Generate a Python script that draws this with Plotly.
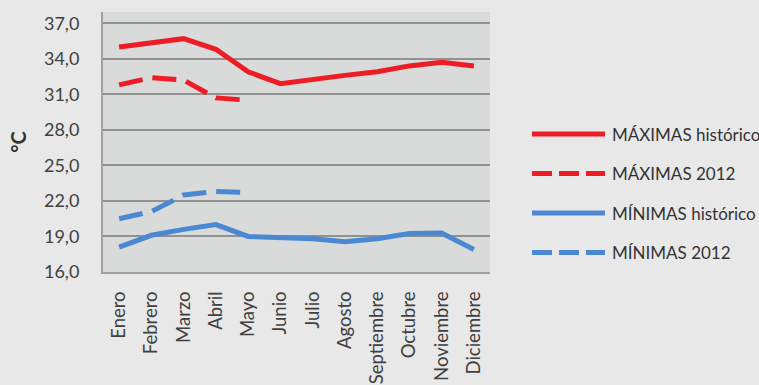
import plotly.graph_objects as go

meses = ["Enero", "Febrero", "Marzo", "Abril", "Mayo", "Junio", "Julio",
         "Agosto", "Septiembre", "Octubre", "Noviembre", "Diciembre"]
max_historico = [35.0, 35.3, 35.7, 34.8, 32.9, 31.9, 32.3, 32.6, 32.9, 33.4, 33.7, 33.4]
max_2012 = [31.8, 32.4, 32.2, 30.7, 30.5]
min_historico = [18.1, 19.1, 19.6, 20.0, 19.0, 18.9, 18.8, 18.55, 18.8, 19.25, 19.3, 17.9]
min_2012 = [20.5, 21.1, 22.5, 22.8, 22.7]
y_ticks = [16, 19, 22, 25, 28, 31, 34, 37]

ROJO = "#ee1c25"
AZUL = "#4a89d2"
FUENTE = "Lato"

W, H = 759, 385
M_L, M_R, M_T, M_B = 103, 269, 12, 113

series = [
    ("MÁXIMAS histórico", meses, max_historico, ROJO, "solid"),
    ("MÁXIMAS 2012", meses[:len(max_2012)], max_2012, ROJO, "dash"),
    ("MÍNIMAS histórico", meses, min_historico, AZUL, "solid"),
    ("MÍNIMAS 2012", meses[:len(min_2012)], min_2012, AZUL, "dash"),
]
TRAZO_PLOT = {"solid": "solid", "dash": "24px,10px"}
TRAZO_LEYENDA = {"solid": "solid", "dash": "20px,7px"}

fig = go.Figure()
for nombre, x, y, color, estilo in series:
    fig.add_trace(go.Scatter(
        x=x, y=y, name=nombre, mode="lines", showlegend=False,
        line=dict(color=color, width=5, dash=TRAZO_PLOT[estilo]),
    ))

# Legend at the right, built from line samples and labels in paper coordinates
ancho_plot = W - M_L - M_R
alto_plot = H - M_T - M_B
def px_x(px):
    return (px - M_L) / ancho_plot
def px_y(py):
    return (H - M_B - py) / alto_plot

for k, (nombre, _, _, color, estilo) in enumerate(series):
    fila = 134 + k * 39.5
    fig.add_shape(
        type="line", xref="paper", yref="paper",
        x0=px_x(532), x1=px_x(605), y0=px_y(fila), y1=px_y(fila),
        line=dict(color=color, width=5, dash=TRAZO_LEYENDA[estilo]),
    )
    fig.add_annotation(
        xref="paper", yref="paper", x=px_x(610), y=px_y(fila),
        xanchor="left", yanchor="middle", showarrow=False,
        text=nombre, font=dict(family=FUENTE, size=17, color="#333333"),
    )

fig.update_layout(
    width=W, height=H,
    margin=dict(l=M_L, r=M_R, t=M_T, b=M_B),
    paper_bgcolor="#e8e8e8",
    plot_bgcolor="#d9dada",
    separators=",.",
    font=dict(family=FUENTE, color="#404040", size=16),
    showlegend=False,
    xaxis=dict(
        type="category", range=[-0.5, 11.5], tickangle=-90, automargin=False,
        showgrid=False, ticks="outside", ticklen=10, tickcolor="rgba(0,0,0,0)",
        showline=True, linecolor="#a0a0a0", linewidth=2,
        tickfont=dict(family=FUENTE, size=18.5, color="#404040"),
    ),
    yaxis=dict(
        range=[16, 37.95], tickvals=y_ticks, tickformat=".1f", automargin=False,
        showgrid=True, gridcolor="#919191", gridwidth=2,
        showline=True, linecolor="#a0a0a0", linewidth=2, zeroline=False,
        ticks="outside", ticklen=18, tickcolor="rgba(0,0,0,0)",
        tickfont=dict(family=FUENTE, size=18, color="#404040"),
        title=dict(text="<b>°C</b>", font=dict(family=FUENTE, size=20, color="#333333"),
                   standoff=12),
    ),
)

fig.write_html("out.html")
